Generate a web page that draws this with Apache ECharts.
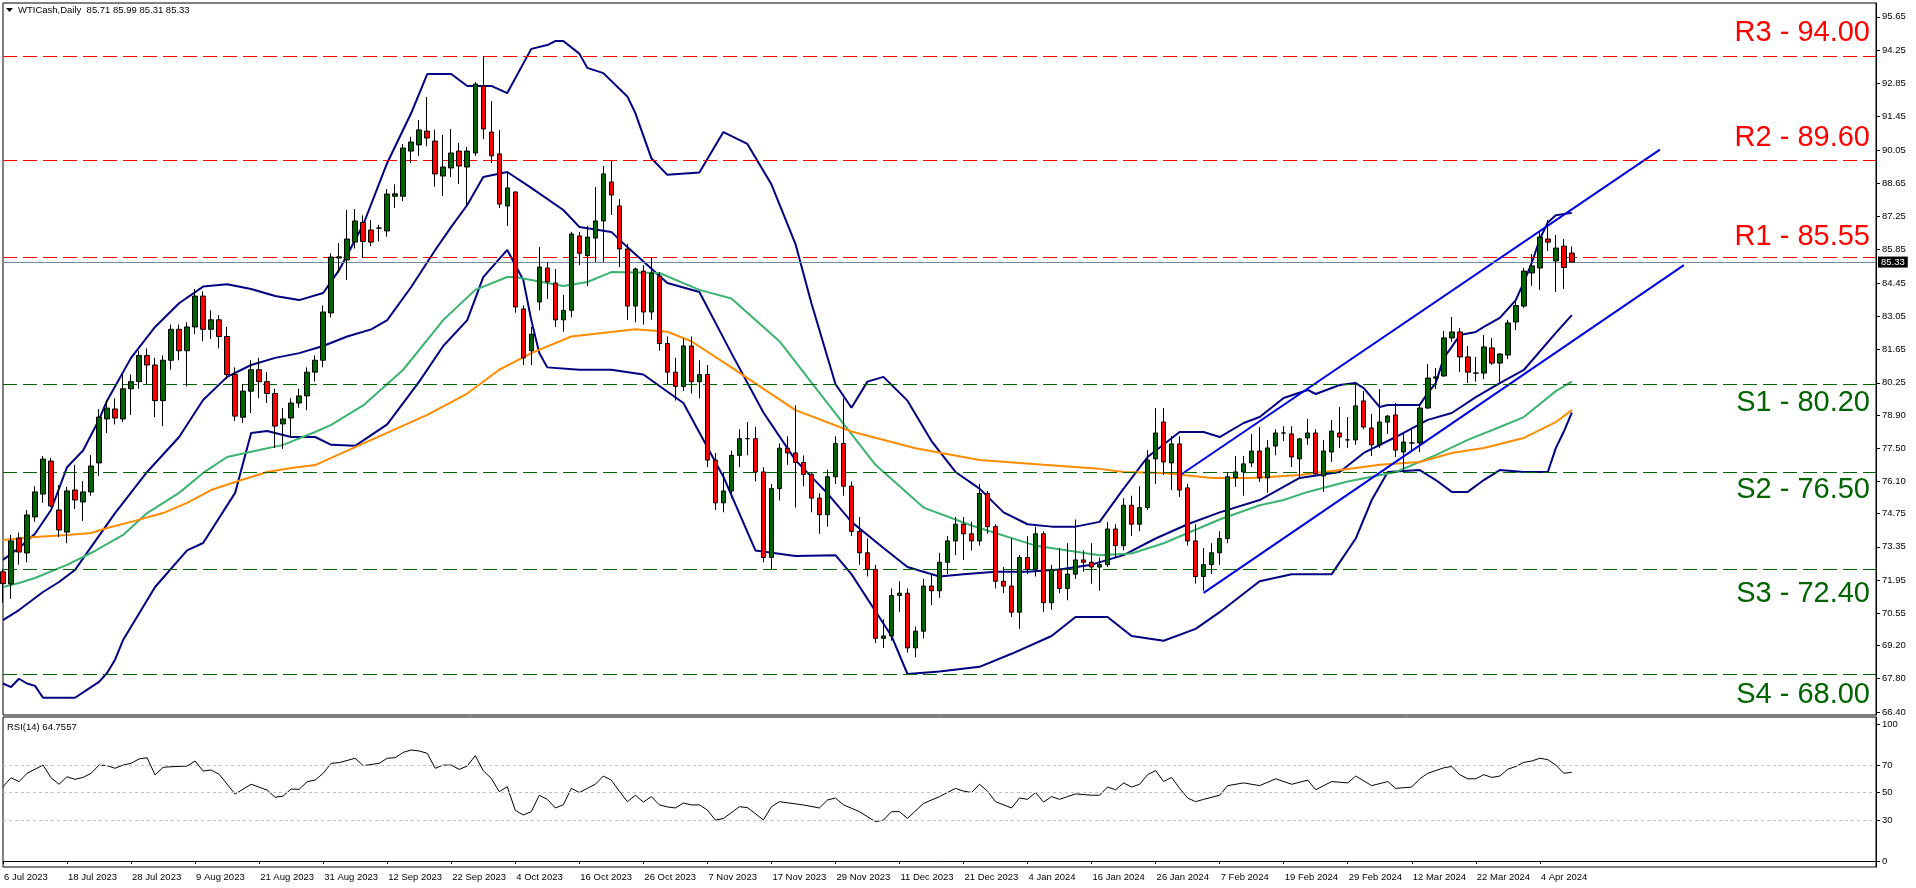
<!DOCTYPE html>
<html><head><meta charset="utf-8">
<script src="https://cdn.jsdelivr.net/npm/echarts@6/dist/echarts.min.js"></script>
<style>html,body{margin:0;padding:0;background:#fff}#c{width:1916px;height:888px}</style>
</head><body><div id="c"></div><script>
// ---- trading days shown on the chart ----
const tradingDays = [
 ['Jul 2023',[6,7,10,11,12,13,14,17,18,19,20,21,24,25,26,27,28,31]],
 ['Aug 2023',[1,2,3,4,7,8,9,10,11,14,15,16,17,18,21,22,23,24,25,28,29,30,31]],
 ['Sep 2023',[1,4,5,6,7,8,11,12,13,14,15,18,19,20,21,22,25,26,27,28,29]],
 ['Oct 2023',[2,3,4,5,6,9,10,11,12,13,16,17,18,19,20,23,24,25,26,27,30,31]],
 ['Nov 2023',[1,2,3,6,7,8,9,10,13,14,15,16,17,20,21,22,23,24,27,28,29,30]],
 ['Dec 2023',[1,4,5,6,7,8,11,12,13,14,15,18,19,20,21,22,26,27,28,29]],
 ['Jan 2024',[2,3,4,5,8,9,10,11,12,15,16,17,18,19,22,23,24,25,26,29,30,31]],
 ['Feb 2024',[1,2,5,6,7,8,9,12,13,14,15,16,19,20,21,22,23,26,27,28,29]],
 ['Mar 2024',[1,4,5,6,7,8,11,12,13,14,15,18,19,20,21,22,25,26,27,28]],
 ['Apr 2024',[1,2,3,4,5,8,9,10]]
];
const emptySlots = 38;

// ---- daily candles [open, high, low, close] ----
const ohlc = [
[72.3,72.4,71.0,71.8],[71.79,73.85,71.16,73.6],[73.72,73.95,72.6,73.13],[73.09,74.9,72.7,74.69],[74.61,75.9,74.4,75.66],
[75.57,77.17,75.2,77.04],[76.96,77.09,75.03,75.07],[74.9,75.95,73.76,74.06],[73.97,75.87,73.5,75.7],[75.74,76.8,74.94,75.32],
[75.24,76.12,74.44,75.66],[75.66,77.21,75.5,76.75],[76.88,79.15,76.33,78.81],[78.73,79.53,78.14,79.19],[79.15,79.6,78.5,78.77],
[78.73,80.6,78.6,80.0],[80.0,80.6,78.9,80.3],[80.3,81.6,80.0,81.4],[81.4,81.7,80.2,81.0],[81.0,81.3,78.81,79.5],
[79.5,81.4,78.43,81.2],[81.2,82.7,80.8,82.5],[82.5,82.7,81.2,81.6],[81.6,82.8,80.1,82.6],[82.6,84.2,82.3,83.9],
[83.9,84.1,82.0,82.5],[82.5,83.3,82.1,82.9],[82.9,83.1,81.7,82.2],[82.2,82.6,80.4,80.6],[80.6,80.9,78.64,78.85],
[78.8,80.2,78.56,79.9],[79.9,81.2,78.98,80.8],[80.8,81.3,79.6,80.3],[80.3,80.7,79.4,79.8],[79.8,80.0,77.51,78.43],
[78.52,79.19,77.47,78.73],[78.77,79.6,77.97,79.4],[79.4,80.0,79.2,79.7],[79.7,80.9,79.1,80.7],[80.7,81.4,80.3,81.2],
[81.2,83.5,80.9,83.23],[83.19,85.7,83.0,85.54],[85.5,86.13,84.87,85.55],[85.42,87.52,84.58,86.3],[86.17,87.56,85.9,87.06],
[87.0,87.3,85.5,86.2],[86.68,87.1,86.0,86.17],[86.76,86.9,86.2,86.76],[86.64,88.4,86.4,88.19],[88.1,88.6,87.6,88.2],
[88.1,90.3,87.9,90.13],[90.0,90.6,89.5,90.38],[90.26,91.31,89.8,90.89],[90.84,92.28,90.2,90.55],[90.42,90.9,88.5,89.04],
[88.95,90.68,88.11,89.33],[89.29,90.93,88.91,89.92],[90.0,90.34,88.61,89.37],[89.33,90.17,87.73,90.0],[89.92,92.9,89.8,92.82],
[92.74,94.0,90.5,90.93],[90.8,92.1,89.5,89.8],[89.88,90.89,87.6,87.77],[87.69,89.12,86.85,88.45],[88.28,88.3,83.2,83.44],
[83.36,83.5,81.0,81.3],[81.6,82.6,81.0,82.3],[83.65,85.96,83.3,85.12],[85.08,85.33,83.78,84.5],[84.45,85.04,82.6,82.9],
[82.9,83.95,82.4,83.3],[83.3,86.6,83.0,86.51],[86.43,86.6,85.2,85.7],[85.6,86.85,84.32,86.38],[86.34,88.49,85.33,87.06],
[87.06,89.37,85.33,89.04],[88.7,89.58,87.31,88.15],[87.69,87.98,85.12,85.88],[85.88,86.1,82.9,83.48],[83.48,85.1,82.8,85.04],
[84.95,85.2,82.7,83.23],[83.23,85.54,82.9,84.87],[84.74,84.9,81.6,81.9],[81.9,82.2,80.2,80.7],[80.7,81.3,79.5,80.1],
[80.1,82.1,79.9,81.8],[81.8,82.2,79.8,80.3],[80.3,81.2,79.6,80.6],[80.6,81.0,76.7,77.0],[77.0,77.3,74.9,75.2],
[75.2,76.5,74.8,75.7],[75.7,77.4,75.4,77.2],[77.2,78.3,76.7,77.9],[77.9,78.6,77.2,77.9],[77.9,78.4,76.1,76.5],
[76.5,76.7,72.7,72.9],[72.9,76.0,72.4,75.8],[75.8,77.7,75.3,77.5],[77.5,78.0,76.8,77.3],[77.3,79.3,75.0,76.9],
[76.9,77.2,75.9,76.4],[76.4,76.5,74.8,75.4],[75.4,75.6,73.9,74.7],[74.7,76.6,74.2,76.3],[76.3,78.0,76.0,77.7],
[77.7,79.6,75.5,75.9],[75.9,76.1,73.8,74.0],[74.0,74.6,72.6,73.1],[73.1,73.7,72.1,72.4],[72.4,72.6,69.3,69.5],
[69.5,70.3,69.1,69.6],[69.6,71.6,69.4,71.3],[71.3,71.9,70.6,71.4],[71.4,71.6,68.9,69.1],[69.1,70.0,68.7,69.8],
[69.8,72.0,69.5,71.7],[71.7,72.2,70.9,71.5],[71.5,73.1,71.2,72.7],[72.7,73.8,72.2,73.6],[73.6,74.6,73.0,74.3],
[74.3,74.6,72.8,73.9],[73.9,74.4,73.2,73.6],[73.6,76.0,73.4,75.6],[75.6,75.7,73.9,74.2],[74.2,74.3,71.6,71.9],
[71.9,72.5,71.4,71.7],[71.7,73.7,70.4,70.6],[70.6,73.0,69.9,72.9],[72.9,73.8,72.2,72.4],[72.4,74.2,72.1,73.9],
[73.9,74.0,70.6,71.0],[71.0,72.6,70.7,72.4],[72.4,73.3,71.4,71.6],[71.6,73.5,71.1,72.2],[72.2,74.5,72.0,72.8],
[72.8,73.2,72.3,72.7],[72.7,73.5,71.8,72.5],[72.5,72.9,71.5,72.6],[72.6,74.4,72.5,74.1],[74.1,74.3,72.9,73.4],
[73.4,75.4,73.2,75.1],[75.1,75.5,73.8,74.3],[74.3,75.9,74.0,75.0],[75.0,77.42,74.9,77.0],[77.05,79.19,76.0,78.14],
[78.6,79.19,76.37,76.92],[76.88,78.01,75.74,77.68],[77.68,78.0,75.45,75.74],[75.83,76.0,73.4,73.6],[73.6,74.3,71.8,72.1],
[72.1,73.3,71.5,72.6],[72.6,73.5,72.2,73.1],[73.1,74.0,72.6,73.7],[73.7,76.5,73.5,76.3],[76.25,77.17,75.87,76.5],
[76.5,77.17,75.5,76.84],[76.88,78.1,76.71,77.38],[77.38,78.39,76.08,76.25],[76.25,77.85,75.62,77.51],[77.59,78.3,77.2,78.14],
[78.14,78.43,77.8,78.14],[78.1,78.43,76.71,77.13],[77.05,77.93,76.25,77.89],[77.93,78.73,77.64,78.14],[78.14,78.3,76.33,76.42],
[76.33,77.85,75.66,77.38],[77.34,78.69,76.92,78.22],[78.14,79.23,77.51,77.97],[77.85,78.81,77.51,77.85],[77.85,80.29,77.64,79.28],
[79.49,79.9,78.3,78.39],[78.35,78.94,77.17,77.64],[77.64,79.99,77.5,78.6],[78.6,78.9,78.1,78.85],[78.9,79.4,77.13,77.42],
[77.34,78.1,76.5,77.76],[77.72,78.35,77.34,77.72],[77.72,79.32,77.34,79.19],[79.19,81.04,79.15,80.45],[80.45,80.87,79.99,80.5],
[80.54,82.43,80.5,82.14],[82.14,83.02,81.97,82.39],[82.39,82.56,80.7,81.34],[81.34,81.8,80.24,80.7],[80.66,81.34,80.3,80.66],
[80.66,82.26,80.4,81.76],[81.72,82.14,81.0,81.08],[81.08,81.5,80.28,81.46],[81.42,82.9,81.25,82.77],[82.81,83.78,82.47,83.5],
[83.48,85.08,83.4,84.95],[84.87,85.67,84.32,85.17],[85.08,86.64,84.16,86.38],[86.3,87.1,85.8,86.17],[85.38,86.47,84.07,85.92],
[86.0,86.3,84.2,85.1],[85.71,85.99,85.31,85.33]
];

// ---- indicator lines: [bar index, value] ----
const bbUpper = [[0,72.8],[2,73.3],[4,73.9],[6,74.9],[8,76.7],[10,77.4],[12,78.7],[13,79.5],[16,81.3],[19,82.6],[22,83.6],[25,84.3],[28,84.4],[31,84.2],[34,83.9],[37,83.73],[40,84.03],[42,85.0],[45,86.9],[48,89.5],[51,91.6],[53,93.24],[56,93.24],[58,92.74],[61,92.74],[63,92.44],[66,94.3],[68,94.46],[69,94.63],[70,94.63],[72,94.1],[73,93.5],[75,93.28],[78,92.3],[79,91.6],[81,89.7],[83,89.0],[87,89.1],[90,90.8],[93,90.3],[96,88.6],[99,86.1],[101,83.6],[104,80.2],[106,79.2],[108,80.3],[110,80.5],[113,79.5],[116,77.8],[119,76.5],[122,75.8],[125,74.8],[128,74.3],[131,74.2],[134,74.2],[137,74.4],[140,75.8],[143,77.13],[147,78.18],[150,78.18],[152,77.97],[155,78.56],[157,78.81],[160,79.61],[163,79.95],[164,79.78],[167,80.16],[169,80.24],[170,80.03],[172,79.23],[173,79.32],[177,79.32],[178,79.82],[179,80.24],[180,81.3],[181,81.76],[182,82.26],[184,82.39],[185,82.6],[187,82.98],[189,83.73],[190,84.49],[191,85.3],[192,86.3],[193,87.0],[194,87.3],[196,87.4]];
const bbMiddle = [[0,70.27],[2,70.69],[5,71.45],[7,71.87],[9,72.38],[11,73.34],[14,74.77],[18,76.5],[22,77.97],[25,79.53],[28,80.5],[31,81.0],[34,81.3],[37,81.5],[40,81.8],[43,82.2],[46,82.5],[48,82.89],[51,84.28],[54,85.84],[56,86.81],[58,87.73],[60,88.91],[63,89.12],[66,88.45],[70,87.52],[72,86.81],[76,86.6],[78,85.96],[83,84.45],[87,84.07],[91,81.5],[95,79.0],[99,77.0],[103,75.6],[106,74.4],[110,73.3],[113,72.5],[117,72.1],[120,72.2],[124,72.3],[128,72.3],[132,72.4],[136,72.6],[140,73.0],[144,73.7],[148,74.3],[152,74.8],[157,75.32],[162,76.25],[167,76.5],[170,77.3],[174,77.97],[178,78.69],[181,78.98],[184,79.65],[187,80.24],[190,80.79],[194,82.35],[196,83.1]];
const bbLower = [[0,67.6],[1,67.45],[2,67.8],[3,67.6],[4,67.5],[5,67.0],[7,67.0],[9,67.0],[11,67.45],[12,67.67],[13,68.04],[14,68.6],[15,69.43],[19,71.66],[23,73.2],[25,73.51],[29,75.62],[31,78.14],[33,78.22],[36,77.97],[39,77.97],[41,77.64],[44,77.6],[48,78.5],[52,80.3],[55,81.8],[58,82.89],[60,84.7],[63,85.84],[65,84.58],[66,82.89],[67,81.5],[68,80.9],[72,80.8],[76,80.8],[80,80.6],[85,79.4],[90,76.3],[94,73.2],[99,72.96],[104,73.0],[106,72.2],[111,69.6],[113,68.0],[117,68.1],[122,68.3],[126,68.85],[131,69.6],[134,70.4],[138,70.4],[141,69.6],[145,69.4],[149,69.9],[152,70.6],[157,71.9],[161,72.2],[166,72.2],[169,73.7],[171,75.32],[173,76.5],[177,76.58],[179,76.16],[181,75.66],[183,75.66],[185,76.16],[187,76.58],[190,76.5],[193,76.5],[194,77.5],[195,78.2],[196,79.0]];
const sma50 = [[0,71.66],[2,71.83],[4,72.04],[8,72.59],[11,73.09],[15,73.85],[18,74.77],[22,75.62],[25,76.46],[28,77.13],[32,77.42],[35,77.64],[39,78.18],[41,78.48],[45,79.3],[50,80.8],[55,82.89],[59,84.16],[63,84.7],[64,84.7],[70,84.32],[73,84.49],[76,84.91],[82,84.87],[87,84.16],[91,83.8],[97,82.0],[103,79.4],[109,76.8],[115,75.0],[121,74.25],[129,73.4],[137,73.0],[141,73.07],[145,73.5],[152,74.5],[157,75.1],[160,75.32],[163,75.66],[168,76.1],[174,76.5],[179,77.21],[183,77.85],[187,78.39],[190,78.81],[194,79.9],[196,80.3]];
const sma100 = [[0,73.64],[4,73.76],[8,73.85],[11,73.93],[13,74.14],[16,74.4],[20,74.77],[23,75.2],[26,75.74],[29,76.08],[33,76.5],[36,76.67],[39,76.79],[41,77.09],[47,78.0],[53,78.9],[58,79.8],[62,80.8],[66,81.5],[71,82.2],[79,82.5],[83,82.4],[86,82.0],[91,80.9],[99,79.1],[106,78.2],[114,77.5],[122,77.0],[130,76.8],[137,76.63],[140,76.5],[145,76.46],[151,76.25],[156,76.25],[162,76.37],[169,76.67],[172,76.8],[177,76.92],[181,77.3],[185,77.51],[190,77.93],[194,78.6],[196,79.1]];
const channelUpper = [[147,76.35],[207,90.06]];
const channelLower = [[150,71.41],[210,85.2]];
const rsi14 = [[0,54.2],[1,60.8],[2,57.9],[3,64],[5,70],[6,60.8],[7,56],[8,61.5],[9,59.6],[10,61],[11,64],[12,70],[13,69.6],[14,67.7],[15,70],[16,71.3],[17,74.5],[18,75.4],[19,62.8],[20,68.4],[21,68.8],[23,69.3],[24,73],[25,65.7],[26,66.4],[27,63.3],[29,48.9],[31,56],[33,51.8],[34,46.5],[35,47.4],[36,52.5],[37,52.3],[38,57.9],[39,59.1],[40,64],[41,71.3],[42,71.8],[44,75],[45,69.6],[47,71.3],[48,75],[49,75.4],[50,79.3],[51,81],[52,80.3],[53,78.6],[54,67.7],[55,70],[56,70],[57,66.9],[58,69.3],[59,76.9],[60,65.9],[61,60.3],[62,50.6],[63,54.2],[64,37],[65,33.6],[66,36],[67,48],[68,45],[69,38.7],[70,41],[71,53],[72,50],[73,53],[74,56],[75,62],[76,59],[77,51],[78,43.3],[79,48],[80,43],[81,47],[82,41],[83,39.5],[84,38.7],[85,42.3],[86,40.9],[87,41],[88,37.2],[89,29.9],[90,31],[92,39.6],[93,39],[95,30],[96,39.6],[97,43.3],[98,42.5],[100,40.9],[102,38.7],[103,44.5],[104,46],[105,41],[107,36],[109,28.7],[110,29.9],[111,36],[112,36],[113,31.1],[115,42],[117,47],[118,50],[119,53],[120,51],[121,50],[122,56],[123,51],[124,43.3],[126,38.7],[127,46],[128,45],[129,50],[130,43],[131,47],[132,45],[133,47],[134,49],[136,48],[137,48],[138,54],[139,52],[140,57],[141,54],[142,56],[143,63],[144,66],[145,58],[146,61],[147,53],[148,46],[149,43.3],[150,45],[152,48],[153,55],[155,57],[157,55],[159,60],[161,56],[163,59],[164,52],[166,58],[168,57],[169,62],[171,55],[173,58],[174,53],[176,54],[177,60],[178,64],[180,68],[181,69],[182,63],[183,60],[184,60],[185,63],[186,61],[187,62],[188,67],[189,69],[190,72],[191,73],[192,75],[193,74],[194,70],[195,64],[196,64.76]];

// ---- horizontal levels [name, price, label gap px] and axis ticks ----
const levels = [
 ['R3',94.00,9],['R2',89.60,8],['R1',85.55,5],['S1',80.20,4],['S2',76.50,4],['S3',72.40,10],['S4',68.00,7]
];
const lastPrice = 85.33;
const priceTicks = [95.65,94.25,92.85,91.45,90.05,88.65,87.25,85.85,84.45,83.05,81.65,80.25,78.90,77.50,76.10,74.75,73.35,71.95,70.55,69.20,67.80,66.40];
const rsiTicks = [100,70,50,30,0];
const rsiLevels = [70,50,30];

// ---- build ----
const categories = [];
tradingDays.forEach(([m, ds]) => ds.forEach(d => categories.push(d + ' ' + m)));
for (let i = 0; i < emptySlots; i++) categories.push('');
const candleData = ohlc.map(r => [r[0], r[3], r[2], r[1]]);

const FONT = 'Liberation Sans, Arial, sans-serif';
const RED = '#ff0000', GREEN = '#006400';

const levelLines = [{
  yAxis: lastPrice,
  lineStyle: {color: '#778899', type: 'solid', width: 1},
  label: {show: true, position: 'end', formatter: lastPrice.toFixed(2), color: '#fff',
    backgroundColor: '#000', padding: [1, 3, 0, 3], fontSize: 9.5, fontFamily: FONT, distance: 2}
}];
levels.forEach(([name, v, gap]) => {
  const isR = name[0] === 'R';
  const col = isR ? RED : GREEN;
  levelLines.push({
    yAxis: v,
    lineStyle: {color: col, type: [14, 6], width: 1},
    label: {show: true, position: isR ? 'insideEndTop' : 'insideEndBottom',
      formatter: name + ' - ' + v.toFixed(2), color: col, fontSize: 29,
      fontFamily: FONT, distance: [6, gap]}
  });
});
levels.forEach(([name, v]) => {
  const col = name[0] === 'R' ? RED : GREEN;
  levelLines.push({
    yAxis: v,
    lineStyle: {opacity: 0},
    label: {show: true, position: 'end', formatter: v.toFixed(2), color: '#fff',
      backgroundColor: col, padding: [1, 3, 0, 3], fontSize: 9.5, fontFamily: FONT, distance: 2}
  });
});

const lineSeries = (name, data, color, width) => ({
  name, type: 'line', data, xAxisIndex: 0, yAxisIndex: 0, symbol: 'none',
  lineStyle: {color, width}, silent: true, z: 3, animation: false
});

const tickShow = (i, v) => i % 8 === 0 && v !== '';

const chart = echarts.init(document.getElementById('c'), null, {renderer: 'canvas'});
chart.setOption({
  animation: false,
  backgroundColor: '#fff',
  textStyle: {fontFamily: FONT},
  grid: [
    {left: 3, top: 3, width: 1873, height: 712, show: true, borderColor: '#000', borderWidth: 1, backgroundColor: '#fff'},
    {left: 3, top: 717, width: 1873, height: 150, show: true, borderColor: '#000', borderWidth: 1, backgroundColor: '#fff'}
  ],
  xAxis: [
    {type: 'category', gridIndex: 0, data: categories, boundaryGap: false,
      axisLine: {show: false}, axisTick: {show: false}, axisLabel: {show: false}, splitLine: {show: false}},
    {type: 'category', gridIndex: 1, data: categories, boundaryGap: false,
      axisLine: {show: true, lineStyle: {color: '#000'}},
      axisTick: {show: true, interval: tickShow, length: 3, lineStyle: {color: '#000'}},
      axisLabel: {show: true, interval: tickShow, align: 'left', margin: 5, color: '#000',
        fontSize: 9.5, fontFamily: FONT, padding: [0, 0, 0, 1]},
      splitLine: {show: false}}
  ],
  yAxis: [
    {type: 'value', gridIndex: 0, position: 'right', min: 66.2748, max: 96.2298, scale: true,
      axisLine: {show: true, lineStyle: {color: '#000'}},
      axisTick: {show: true, length: 4, customValues: priceTicks, lineStyle: {color: '#000'}},
      axisLabel: {show: true, customValues: priceTicks, margin: 6, color: '#000', fontSize: 9.5,
        fontFamily: FONT, formatter: v => v.toFixed(2)},
      splitLine: {show: false}},
    {type: 'value', gridIndex: 1, position: 'right', min: -4.38, max: 105.11,
      axisLine: {show: true, lineStyle: {color: '#000'}},
      axisTick: {show: true, length: 4, customValues: rsiTicks, lineStyle: {color: '#000'}},
      axisLabel: {show: true, customValues: rsiTicks, margin: 6, color: '#000', fontSize: 9.5,
        fontFamily: FONT, formatter: v => String(v)},
      splitLine: {show: false}}
  ],
  graphic: [
    {type: 'polygon', left: 6, top: 8, shape: {points: [[0, 0], [7, 0], [3.5, 4]]}, style: {fill: '#000'}},
    {type: 'text', left: 18, top: 5, style: {text: 'WTICash,Daily  85.71 85.99 85.31 85.33', fill: '#000', font: '9.5px ' + FONT}},
    {type: 'text', left: 7, top: 722, style: {text: 'RSI(14) 64.7557', fill: '#000', font: '9.5px ' + FONT}}
  ],
  series: [
    {name: 'WTICash', type: 'candlestick', xAxisIndex: 0, yAxisIndex: 0, data: candleData,
      barWidth: 5, z: 5, silent: true,
      itemStyle: {color: GREEN, color0: RED, borderColor: '#000', borderColor0: '#000', borderWidth: 1},
      markLine: {silent: true, symbol: 'none', animation: false, precision: 2, data: levelLines}},
    lineSeries('BB upper', bbUpper, '#000080', 2),
    lineSeries('BB middle', bbMiddle, '#000080', 2),
    lineSeries('BB lower', bbLower, '#000080', 2),
    lineSeries('MA 50', sma50, '#3cb371', 2),
    lineSeries('MA 100', sma100, '#ff8c00', 2),
    lineSeries('Channel upper', channelUpper, '#0000e0', 2),
    lineSeries('Channel lower', channelLower, '#0000e0', 2),
    {name: 'RSI(14)', type: 'line', xAxisIndex: 1, yAxisIndex: 1, data: rsi14, symbol: 'none',
      lineStyle: {color: '#000', width: 1}, silent: true,
      markLine: {silent: true, symbol: 'none', animation: false,
        data: rsiLevels.map(v => ({yAxis: v, lineStyle: {color: '#c0c0c0', type: [3, 3], width: 1}, label: {show: false}}))}}
  ]
});
</script></body></html>
